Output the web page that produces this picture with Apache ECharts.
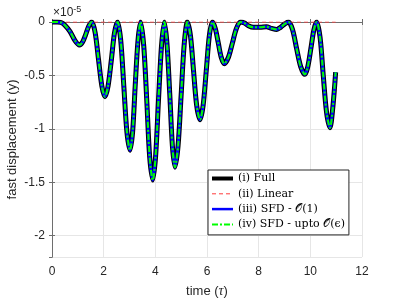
<!DOCTYPE html>
<html><head><meta charset="utf-8">
<script src="https://cdn.jsdelivr.net/npm/echarts@6/dist/echarts.min.js"></script>
<style>html,body{margin:0;padding:0;background:#fff}#c{width:399px;height:299px}</style>
</head><body><div id="c"></div>
<script>
// time samples (tau) and fast displacement values (in units of 1e-5)
const timeValues = [0, 0.2, 0.35, 0.5, 0.7, 0.88, 1.06, 1.18, 1.3, 1.42, 1.54,
  1.67, 1.8, 1.93, 2.05, 2.17, 2.3, 2.42, 2.54,
  2.66, 2.78, 2.9, 3.02, 3.12, 3.22, 3.33, 3.43,
  3.55, 3.67, 3.78, 3.90, 4.01, 4.12, 4.24, 4.35,
  4.45, 4.56, 4.66, 4.76, 4.88, 5.0, 5.12, 5.24,
  5.36, 5.48, 5.6, 5.73, 5.85, 5.97, 6.09, 6.21,
  6.32, 6.44, 6.55, 6.67, 6.83, 6.98, 7.14, 7.30,
  7.45, 7.6, 7.8, 8.05, 8.3, 8.5, 8.7, 8.85, 9.0, 9.15,
  9.31, 9.47, 9.63, 9.79, 9.9, 10.02, 10.14, 10.25,
  10.38, 10.5, 10.63, 10.76, 10.87, 10.98];
const fullValues = [0, 0, -0.005, -0.03, -0.09, -0.17, -0.215, -0.19, -0.12, -0.04, 0,
  -0.10, -0.35, -0.60, -0.70, -0.60, -0.35, -0.10, 0,
  -0.17, -0.60, -1.03, -1.20, -1.03, -0.60, -0.17, 0,
  -0.22, -0.74, -1.26, -1.48, -1.26, -0.74, -0.22, 0,
  -0.20, -0.68, -1.16, -1.36, -1.16, -0.68, -0.20, 0,
  -0.13, -0.46, -0.78, -0.915, -0.78, -0.46, -0.13, 0,
  -0.06, -0.20, -0.33, -0.39, -0.33, -0.20, -0.06, 0,
  -0.01, -0.035, -0.05, -0.05, -0.045, -0.06, -0.07, -0.05, -0.02, 0,
  -0.07, -0.25, -0.42, -0.49, -0.42, -0.25, -0.07, 0,
  -0.15, -0.50, -0.85, -0.99, -0.80, -0.47];
const sfdO1Values = fullValues;
const sfdEpsValues = fullValues;
const linearTimes = [0, 10.98];
const linearValues = [0, 0];
const xTicks = [0, 2, 4, 6, 8, 10, 12];
const yTicks = [0, -0.5, -1, -1.5, -2];
const seriesNames = ['(i) Full', '(ii) Linear', '(iii) SFD - 𝒪(1)', '(iv) SFD - upto 𝒪(ϵ)'];

const pair = (xs, ys) => xs.map((x, i) => [x, ys[i]]);
const sansFont = 'Liberation Sans, Arial, sans-serif';
const serifFont = 'DejaVu Serif, Liberation Serif, serif';
const axisCol = '#6e6e6e';
const textCol = '#262626';

const chart = echarts.init(document.getElementById('c'));
chart.setOption({
  animation: false,
  backgroundColor: '#fff',
  grid: { left: 52, right: 37, top: 22, bottom: 42, containLabel: false, outerBoundsMode: 'none' },
  xAxis: [{
    type: 'value', min: 0, max: 12, interval: 2,
    name: 'time ({t|τ})', nameLocation: 'middle', nameGap: 27, nameMoveOverlap: false,
    nameTextStyle: { color: textCol, fontFamily: sansFont, fontSize: 13,
      rich: { t: { fontFamily: 'Liberation Serif, serif', fontStyle: 'italic', fontSize: 14, color: textCol } } },
    axisLine: { show: true, lineStyle: { color: axisCol, width: 1 } },
    axisTick: { show: true, inside: true, length: 3, lineStyle: { color: axisCol } },
    axisLabel: { color: textCol, fontFamily: sansFont, fontSize: 12, margin: 9,
      formatter: v => xTicks.includes(v) ? String(v) : '' },
    splitLine: { show: true, lineStyle: { color: '#e6e6e6', width: 1 } }
  }, {
    type: 'value', min: 0, max: 12, interval: 2, position: 'top',
    axisLine: { show: true, lineStyle: { color: axisCol, width: 1 } },
    axisTick: { show: true, inside: true, length: 3, lineStyle: { color: axisCol } },
    axisLabel: { show: false }, splitLine: { show: false }
  }],
  yAxis: [{
    type: 'value', min: -2.2, max: 0, splitNumber: 5,
    name: 'fast displacement (y)', nameLocation: 'middle', nameGap: 33, nameMoveOverlap: false,
    nameTextStyle: { color: textCol, fontFamily: sansFont, fontSize: 13 },
    axisLine: { show: true, lineStyle: { color: axisCol, width: 1 } },
    axisTick: { show: true, inside: true, length: 3, lineStyle: { color: axisCol } },
    axisLabel: { color: textCol, fontFamily: sansFont, fontSize: 12, margin: 7, showMinLabel: false,
      formatter: v => yTicks.some(t => Math.abs(t - v) < 1e-9) ? String(v) : '' },
    splitLine: { show: true, lineStyle: { color: '#e6e6e6', width: 1 } }
  }, {
    type: 'value', min: -2.2, max: 0, splitNumber: 5, position: 'right',
    axisLine: { show: true, lineStyle: { color: axisCol, width: 1 } },
    axisTick: { show: true, inside: true, length: 3, lineStyle: { color: axisCol } },
    axisLabel: { show: false }, splitLine: { show: false }
  }],
  legend: {
    orient: 'vertical', left: 208, top: 170,
    backgroundColor: '#fff', borderColor: '#262626', borderWidth: 1,
    padding: [3, 4, 5, 2], itemWidth: 21, itemHeight: 10, itemGap: 4.3,
    itemStyle: { opacity: 0, borderWidth: 0 },
    textStyle: { fontFamily: serifFont, fontSize: 11, color: '#000', lineHeight: 10 },
    data: [
      { name: seriesNames[0], lineStyle: { width: 4 } },
      { name: seriesNames[1], lineStyle: { width: 1 } },
      { name: seriesNames[2], lineStyle: { width: 2.5 } },
      { name: seriesNames[3], lineStyle: { width: 2 } }
    ]
  },
  graphic: [{
    type: 'text', left: 53, top: 5,
    style: { text: '×10{s|-5}', fill: textCol, font: '12px ' + sansFont,
      rich: { s: { fontSize: 9, verticalAlign: 'top', padding: [0, 0, 6, 0], fill: textCol, fontFamily: sansFont } } }
  }],
  series: [{
    name: seriesNames[0], type: 'line', data: pair(timeValues, fullValues),
    smooth: 0.3, symbol: 'none', lineStyle: { color: '#000', width: 5 }, itemStyle: { color: '#000' }, z: 2
  }, {
    name: seriesNames[1], type: 'line', data: pair(linearTimes, linearValues),
    symbol: 'none', lineStyle: { color: '#ff3b3b', width: 1, type: [4, 3] }, itemStyle: { color: '#ff3b3b' }, z: 3
  }, {
    name: seriesNames[2], type: 'line', data: pair(timeValues, sfdO1Values),
    smooth: 0.3, symbol: 'none', lineStyle: { color: '#0000ff', width: 3 }, itemStyle: { color: '#0000ff' }, z: 4
  }, {
    name: seriesNames[3], type: 'line', data: pair(timeValues, sfdEpsValues),
    smooth: 0.3, symbol: 'none', lineStyle: { color: '#00ff00', width: 2, type: [6, 2, 2, 2] }, itemStyle: { color: '#00ff00' }, z: 5
  }]
});
</script></body></html>
